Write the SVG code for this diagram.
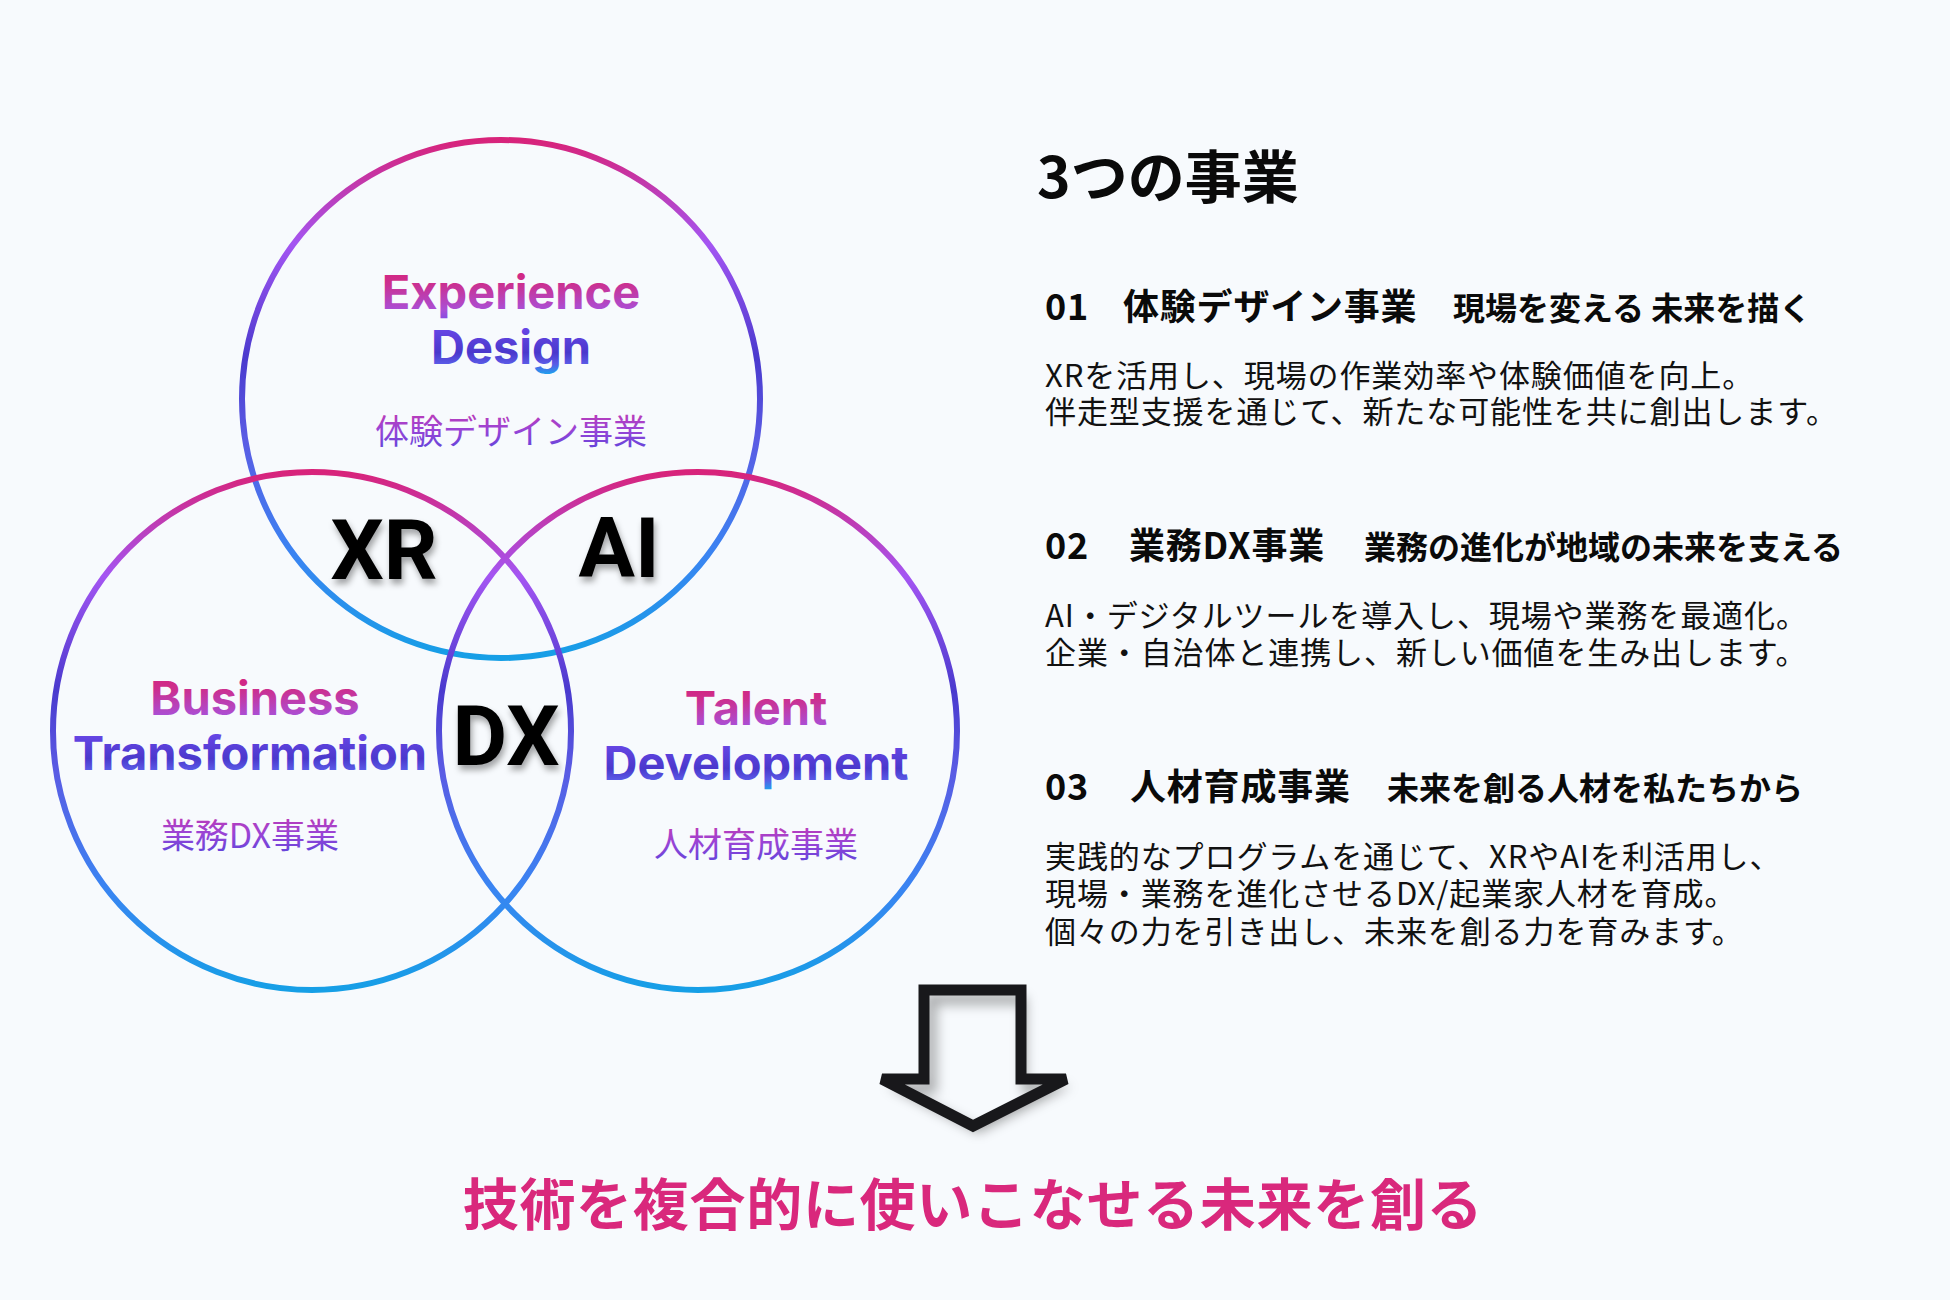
<svg xmlns="http://www.w3.org/2000/svg" width="1950" height="1300" viewBox="0 0 1950 1300">
<defs>
<linearGradient id="ring" x1="0" y1="0" x2="0" y2="1">
<stop offset="0" stop-color="#d8237a"/>
<stop offset="0.2" stop-color="#a455f2"/>
<stop offset="0.42" stop-color="#4a3ace"/>
<stop offset="0.58" stop-color="#5a5ce4"/>
<stop offset="0.8" stop-color="#3a84f2"/>
<stop offset="1" stop-color="#169fe6"/>
</linearGradient>
<linearGradient id="lab" x1="0" y1="0" x2="0" y2="1">
<stop offset="0" stop-color="#d81f78"/>
<stop offset="0.18" stop-color="#cc2f8e"/>
<stop offset="0.42" stop-color="#aa4fd6"/>
<stop offset="0.56" stop-color="#6a48e8"/>
<stop offset="0.8" stop-color="#4a38cc"/>
<stop offset="0.9" stop-color="#5a5ae6"/>
<stop offset="1" stop-color="#1aa6ee"/>
</linearGradient>
<linearGradient id="sub" x1="0" y1="0" x2="0" y2="1">
<stop offset="0" stop-color="#cc36a8"/>
<stop offset="0.5" stop-color="#9a44d6"/>
<stop offset="1" stop-color="#5444dc"/>
</linearGradient>
<filter id="tshadow" x="-20%" y="-20%" width="140%" height="150%">
<feDropShadow dx="2" dy="5" stdDeviation="3" flood-color="#000" flood-opacity="0.35"/>
</filter>
<filter id="ashadow" x="-30%" y="-30%" width="160%" height="160%">
<feDropShadow dx="5" dy="7" stdDeviation="6" flood-color="#000" flood-opacity="0.35"/>
</filter>
<filter id="blur6"><feGaussianBlur stdDeviation="6"/></filter>
<clipPath id="arrowClip">
<path d="M924,990 H1021 V1079 H1066 L973,1126 L882,1079 H924 Z"/>
</clipPath>
<style>
.ring{fill:none;stroke:url(#ring);stroke-width:6}
.lab{font-family:Inter,"Liberation Sans",sans-serif;font-weight:700;font-size:47px;text-anchor:middle;fill:url(#lab)}
.sub{font-family:"Noto Sans CJK JP",sans-serif;font-weight:400;font-size:34px;text-anchor:middle;fill:url(#sub)}
.big{font-family:Roboto,"Liberation Sans",sans-serif;font-weight:700;font-size:84px;text-anchor:middle;fill:#050505;filter:url(#tshadow)}
.title{font-family:"Noto Sans CJK JP",sans-serif;font-weight:700;font-size:57px;fill:#0a0a0a}
.hd{font-family:"Noto Sans CJK JP",sans-serif;font-weight:700;font-size:36px;fill:#0a0a0a;letter-spacing:0.8px}
.tag{font-family:"Noto Sans CJK JP",sans-serif;font-weight:700;font-size:32px;fill:#0a0a0a}
.body{font-family:"Noto Sans CJK JP",sans-serif;font-weight:400;font-size:31px;fill:#111;letter-spacing:0.9px}
.concl{font-family:"Noto Sans CJK JP",sans-serif;font-weight:700;font-size:56px;fill:#d9287c;text-anchor:middle;letter-spacing:0.7px}
</style>
</defs>
<rect width="1950" height="1300" fill="#f7fafd"/>

<g id="circles">
<g id="circle-experience"><circle class="ring" cx="501" cy="399" r="259"/></g>
<g id="circle-business"><circle class="ring" cx="312" cy="731" r="259"/></g>
<g id="circle-talent"><circle class="ring" cx="698" cy="731" r="259"/></g>
</g>

<g id="node-experience">
<text class="lab"><tspan x="511" y="309">Experience</tspan><tspan x="511" y="364">Design</tspan></text>
<text class="sub" x="511" y="444">体験デザイン事業</text>
</g>
<g id="node-business">
<text class="lab"><tspan x="255" y="715">Business</tspan><tspan x="250" y="770">Transformation</tspan></text>
<text class="sub" x="250" y="848">業務DX事業</text>
</g>
<g id="node-talent">
<text class="lab"><tspan x="756" y="725">Talent</tspan><tspan x="756" y="780">Development</tspan></text>
<text class="sub" x="756" y="857">人材育成事業</text>
</g>

<g id="node-xr"><text class="big" x="384" y="579">XR</text></g>
<g id="node-ai"><text class="big" x="619" y="577">AI</text></g>
<g id="node-dx"><text class="big" x="506" y="765">DX</text></g>

<g id="description">
<text class="title" x="1037" y="198">3つの事業</text>

<g id="item-01">
<text class="hd" x="1045" y="320">01</text>
<text class="hd" x="1123" y="320">体験デザイン事業</text>
<text class="tag" x="1453" y="320">現場を変える 未来を描く</text>
<text class="body"><tspan x="1045" y="387">XRを活用し、現場の作業効率や体験価値を向上。</tspan><tspan x="1045" y="423">伴走型支援を通じて、新たな可能性を共に創出します。</tspan></text>
</g>

<g id="item-02">
<text class="hd" x="1045" y="559">02</text>
<text class="hd" x="1129" y="559">業務DX事業</text>
<text class="tag" x="1364" y="559">業務の進化が地域の未来を支える</text>
<text class="body"><tspan x="1045" y="627">AI・デジタルツールを導入し、現場や業務を最適化。</tspan><tspan x="1045" y="664">企業・自治体と連携し、新しい価値を生み出します。</tspan></text>
</g>

<g id="item-03">
<text class="hd" x="1045" y="800">03</text>
<text class="hd" x="1130" y="800">人材育成事業</text>
<text class="tag" x="1387" y="800">未来を創る人材を私たちから</text>
<text class="body"><tspan x="1045" y="868">実践的なプログラムを通じて、XRやAIを利活用し、</tspan><tspan x="1045" y="905">現場・業務を進化させるDX/起業家人材を育成。</tspan><tspan x="1045" y="943">個々の力を引き出し、未来を創る力を育みます。</tspan></text>
</g>
</g>

<g id="connectors">
<g id="arrow">
<path d="M924,990 H1021 V1079 H1066 L973,1126 L882,1079 H924 Z" fill="#f7fafd" filter="url(#ashadow)"/>
<g clip-path="url(#arrowClip)">
<path d="M924,990 H1021 V1079 H1066 L973,1126 L882,1079 H924 Z" fill="none" stroke="#000" stroke-opacity="0.3" stroke-width="12" transform="translate(7,9)" filter="url(#blur6)"/>
</g>
<path d="M924,990 H1021 V1079 H1066 L973,1126 L882,1079 H924 Z" fill="none" stroke="#18181b" stroke-width="11" stroke-linejoin="miter"/>
</g>
</g>

<g id="conclusion">
<text class="concl" x="973" y="1225">技術を複合的に使いこなせる未来を創る</text>
</g>
</svg>
